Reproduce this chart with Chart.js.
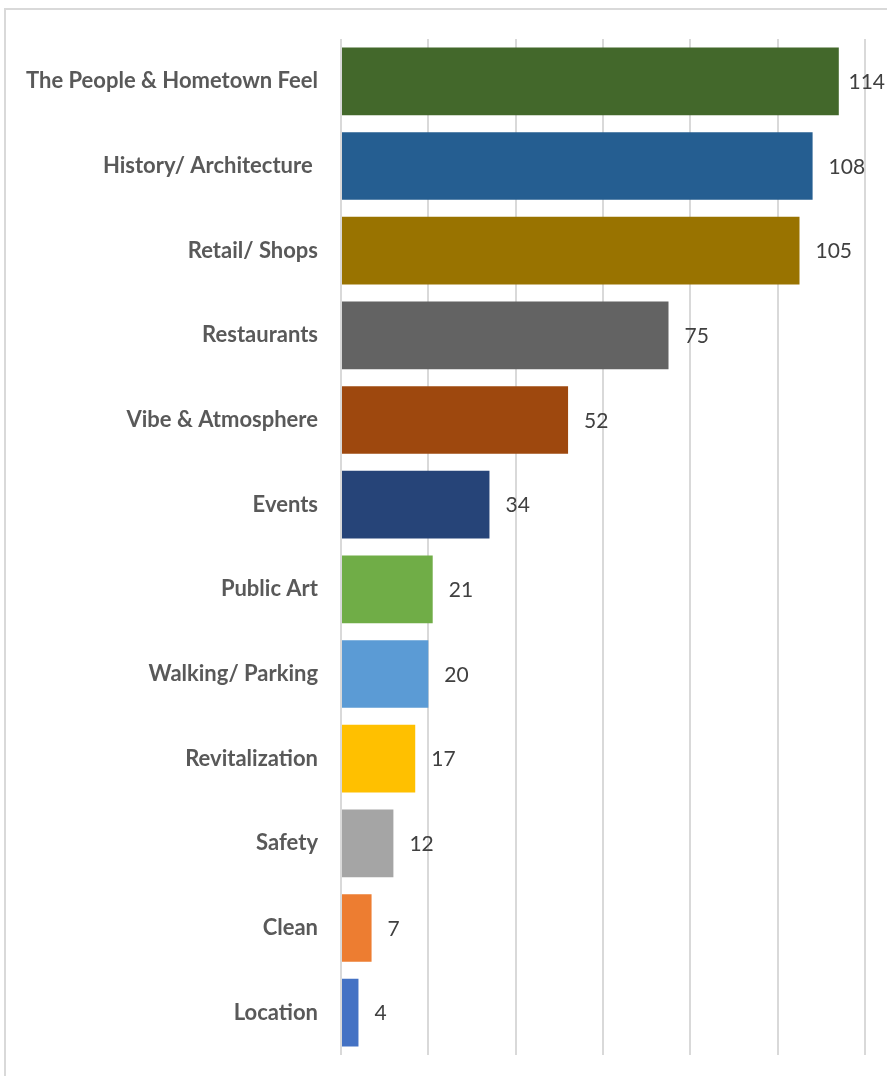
<!DOCTYPE html>
<html>
<head>
<meta charset="utf-8">
<style>
  html, body { margin: 0; padding: 0; background: #ffffff; }
  #wrap { position: relative; width: 887px; height: 1076px; overflow: hidden; }
  #frame { position: absolute; left: 4px; top: 8px; width: 1000px; height: 1200px;
           border-left: 2px solid #d9d9d9; border-top: 2px solid #d9d9d9; box-sizing: border-box; }
  canvas { position: absolute; left: 0; top: 0; }
</style>
<script src="https://cdn.jsdelivr.net/npm/chart.js@4/dist/chart.umd.min.js"></script>
</head>
<body>
<div id="wrap">
  <div id="frame"></div>
  <canvas id="chart" width="887" height="1076"></canvas>
</div>
<script>
const categories = [
  "The People & Hometown Feel",
  "History/ Architecture ",
  "Retail/ Shops",
  "Restaurants",
  "Vibe & Atmosphere",
  "Events",
  "Public Art",
  "Walking/ Parking",
  "Revitalization",
  "Safety",
  "Clean",
  "Location"
];
const counts = [114, 108, 105, 75, 52, 34, 21, 20, 17, 12, 7, 4];
const barColors = [
  "#43682B", "#255E91", "#997300", "#636363", "#9E480E", "#264478",
  "#70AD47", "#5B9BD5", "#FFC000", "#A5A5A5", "#ED7D31", "#4472C4"
];
const axisMax = 120;
const axisStep = 20;

const FONT = "Lato, 'Open Sans', 'Noto Sans', sans-serif";

// Draws each bar's count just past its end, kept inside the canvas.
const valueLabels = {
  id: "valueLabels",
  afterDatasetsDraw(chart) {
    const ctx = chart.ctx;
    const meta = chart.getDatasetMeta(0);
    const data = chart.data.datasets[0].data;
    ctx.save();
    ctx.font = "21px " + FONT;
    ctx.fillStyle = "#404040";
    ctx.textBaseline = "middle";
    ctx.textAlign = "left";
    meta.data.forEach((bar, i) => {
      const text = String(data[i]);
      const w = ctx.measureText(text).width;
      const x = Math.min(bar.x + 16, chart.width - 2 - w);
      ctx.fillText(text, x, bar.y + 1);
    });
    ctx.restore();
  }
};

new Chart(document.getElementById("chart"), {
  type: "bar",
  data: {
    labels: categories,
    datasets: [{
      data: counts,
      backgroundColor: barColors,
      borderWidth: 0,
      categoryPercentage: 0.8,
      barPercentage: 1.0
    }]
  },
  options: {
    indexAxis: "y",
    responsive: false,
    animation: false,
    devicePixelRatio: 1,
    layout: { padding: { left: 0, right: 22, top: 39, bottom: 21 } },
    plugins: {
      legend: { display: false },
      tooltip: { enabled: false },
      title: { display: false }
    },
    scales: {
      x: {
        min: 0,
        max: axisMax,
        ticks: { display: false, stepSize: axisStep },
        grid: { color: "#d9d9d9", lineWidth: 2, drawTicks: false },
        border: { display: false },
        afterFit(scale) { scale.height = 0; }
      },
      y: {
        ticks: {
          color: "#595959",
          font: { family: FONT, size: 22, weight: "bold" },
          padding: 23
        },
        grid: { display: false, drawTicks: false },
        border: { display: false },
        afterFit(scale) {
          scale.width = 341;
          // the label gap should only push labels sideways, not shrink the plot vertically
          scale.paddingTop = 0;
          scale.paddingBottom = 0;
        }
      }
    }
  },
  plugins: [valueLabels]
});
</script>
</body>
</html>
